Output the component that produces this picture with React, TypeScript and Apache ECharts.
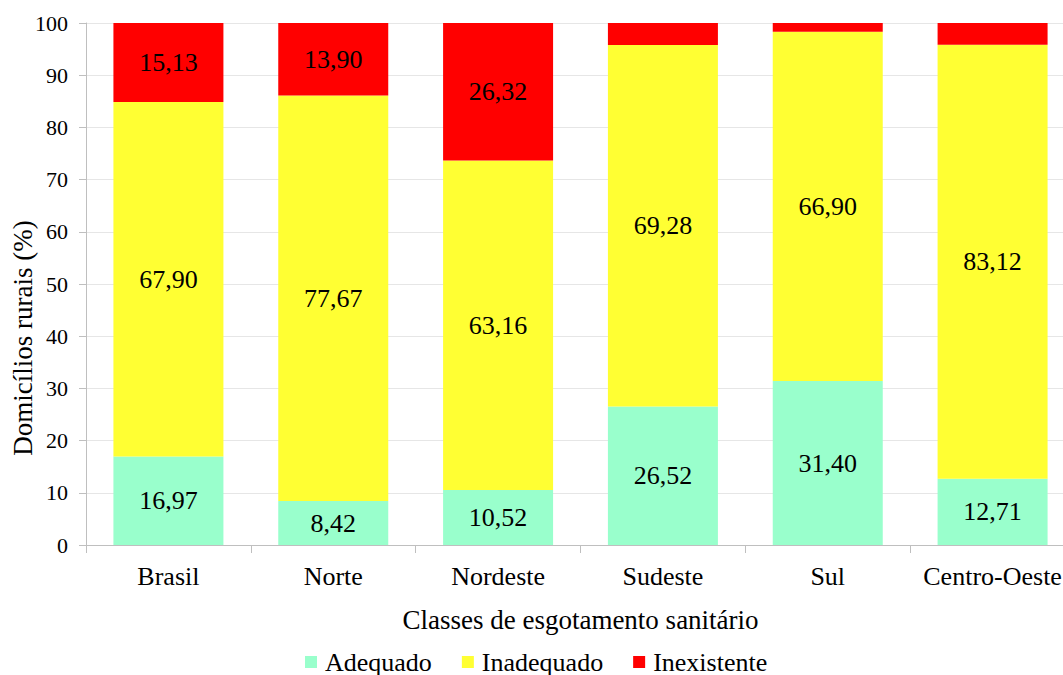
import React, { useEffect, useRef } from "react";
import * as echarts from "echarts";

const categories = ["Brasil", "Norte", "Nordeste", "Sudeste", "Sul", "Centro-Oeste"];
const adequado = [16.97, 8.42, 10.52, 26.52, 31.4, 12.71];
const inadequado = [67.9, 77.67, 63.16, 69.28, 66.9, 83.12];
const inexistente = [15.13, 13.9, 26.32, 4.2, 1.7, 4.17];
const seriesNames = ["Adequado", "Inadequado", "Inexistente"];
const colors = ["#99FFCC", "#FFFF33", "#FF0000"];
const yAxisTitle = "Domicílios rurais (%)";
const xAxisTitle = "Classes de esgotamento sanitário";

const FONT = "Liberation Serif";

export default function App() {
  const ref = useRef<HTMLDivElement>(null);
  useEffect(() => {
    if (!ref.current) return;
    const chart = echarts.init(ref.current, undefined, { renderer: "svg" });
    const fmt = (p: any) => (p.value >= 6 ? Number(p.value).toFixed(2).replace(".", ",") : "");
    const mk = (name: string, data: number[], color: string) => ({
      name,
      type: "bar",
      stack: "total",
      barWidth: 110,
      data,
      itemStyle: { color },
      label: {
        show: true,
        position: "inside",
        formatter: fmt,
        color: "#000",
        fontFamily: FONT,
        fontSize: 26,
      },
    });
    chart.setOption({
      animation: false,
      textStyle: { fontFamily: FONT },
      grid: { left: 86, top: 23, bottom: 130, width: 989, outerBoundsMode: "none", containLabel: false },
      graphic: [
        {
          type: "text",
          x: 23,
          y: 338,
          rotation: Math.PI / 2,
          style: {
            text: yAxisTitle,
            fontFamily: FONT,
            fontSize: 27,
            fill: "#000",
            textAlign: "center",
            textVerticalAlign: "middle",
          },
        },
      ],
      legend: {
        left: 305,
        top: 649,
        padding: 0,
        itemWidth: 12,
        itemHeight: 12,
        itemGap: 30,
        icon: "rect",
        textStyle: { fontFamily: FONT, fontSize: 26, color: "#000", padding: [0, 0, 0, 3] },
        data: seriesNames,
      },
      xAxis: {
        type: "category",
        data: categories,
        name: xAxisTitle,
        nameLocation: "middle",
        nameGap: 61,
        nameMoveOverlap: false,
        nameTextStyle: { fontFamily: FONT, fontSize: 27, color: "#000" },
        axisLine: { lineStyle: { color: "#bfbfbf" } },
        axisTick: { show: true, length: 8, lineStyle: { color: "#bfbfbf" } },
        axisLabel: { interval: 0, fontFamily: FONT, fontSize: 26, color: "#000", margin: 18 },
      },
      yAxis: {
        type: "value",
        min: 0,
        max: 100,
        interval: 10,
        axisLine: { show: true, lineStyle: { color: "#bfbfbf" } },
        axisTick: { show: true, length: 7, lineStyle: { color: "#bfbfbf" } },
        axisLabel: { fontFamily: FONT, fontSize: 22, color: "#000", margin: 18 },
        splitLine: { lineStyle: { color: "#e6e6e6" } },
      },
      series: [
        mk(seriesNames[0], adequado, colors[0]),
        mk(seriesNames[1], inadequado, colors[1]),
        mk(seriesNames[2], inexistente, colors[2]),
      ],
    });
    return () => chart.dispose();
  }, []);
  return (
    <div
      ref={ref}
      style={{ position: "fixed", left: 0, top: 0, width: 1063, height: 675, background: "#fff" }}
    />
  );
}
